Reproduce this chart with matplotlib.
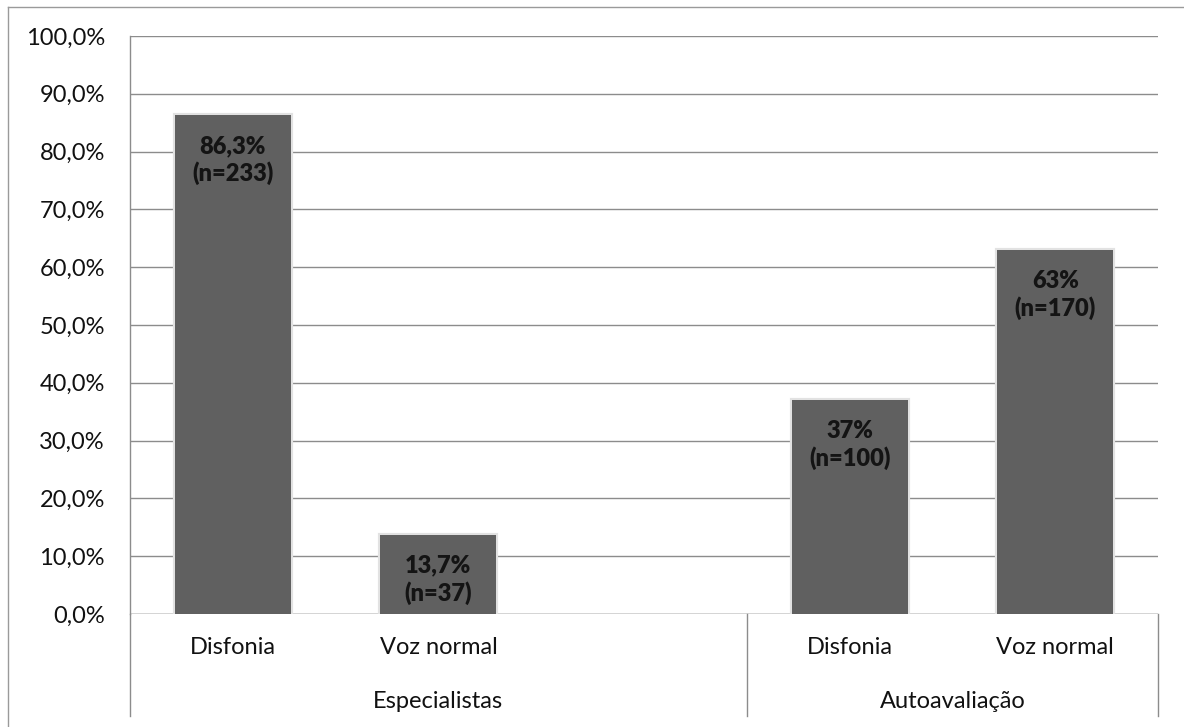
import matplotlib
matplotlib.use("Agg")
import matplotlib.pyplot as plt
import matplotlib.patheffects as pe
from matplotlib.lines import Line2D
from matplotlib.transforms import blended_transform_factory

# Data
categories = ["Disfonia", "Voz normal", "", "Disfonia", "Voz normal"]
groups = ["Especialistas", "Autoavaliação"]
group_spans = [(0, 2), (3, 4)]          # category slots covered by each group
bar_slots = [0, 1, 3, 4]
percentages = [86.3, 13.7, 37.0, 63.0]
counts = [233, 37, 100, 170]
yticks = [0, 10, 20, 30, 40, 50, 60, 70, 80, 90, 100]

plt.rcParams["font.family"] = ["Lato", "DejaVu Sans"]

W, H = 1184, 727
fig = plt.figure(figsize=(W / 100, H / 100), dpi=100)
ax = fig.add_axes([130 / W, (H - 614) / H, 1028 / W, 578 / H])

grid_col = "#8c8c8c"
bar_col = "#606060"
fs = 17

ax.set_xlim(-0.5, len(categories) - 0.5)
ax.set_ylim(0, 100)
ax.set_yticks(yticks)
ax.set_yticklabels([f"{v:.1f}%".replace(".", ",") for v in yticks], fontsize=fs, color="#111111")
ax.tick_params(axis="y", length=0, pad=18)
ax.set_xticks([])
for s in ["top", "right", "bottom"]:
    ax.spines[s].set_visible(False)
ax.spines["left"].set_color(grid_col)
ax.spines["left"].set_linewidth(1.0)
ax.yaxis.grid(True, color=grid_col, linewidth=1.0)
ax.set_axisbelow(True)

bars = ax.bar(bar_slots, percentages, width=0.565, color=bar_col, zorder=3)
for b in bars:
    b.set_path_effects([pe.withStroke(linewidth=3.0, foreground="#e2e2e2")])

# Value labels inside the top of each bar
for x, v, n in zip(bar_slots, percentages, counts):
    txt = f"{v:g}%".replace(".", ",") + f"\n(n={n})"
    ax.annotate(txt, xy=(x, v), xytext=(0, -45), textcoords="offset pixels",
                ha="center", va="center", fontsize=fs, fontweight="heavy",
                color="#141414", linespacing=1.25, zorder=4)

# Two-level category axis
tr = blended_transform_factory(ax.transData, ax.transAxes)
sep_bottom = (614 - 716) / 578
for i, c in enumerate(categories):
    if c:
        ax.text(i, (614 - 648) / 578, c, transform=tr, ha="center", va="center",
                fontsize=fs, color="#111111")
for g, (a, b) in zip(groups, group_spans):
    ax.text((a + b) / 2, (614 - 701) / 578, g, transform=tr, ha="center", va="center",
            fontsize=fs, color="#111111")
sep_x = [-0.5, group_spans[0][1] + 0.5, len(categories) - 0.5]
for x in sep_x:
    ax.add_line(Line2D([x, x], [0, sep_bottom], transform=tr, color=grid_col,
                       linewidth=1.0, clip_on=False))
ax.axhline(0, color=grid_col, linewidth=1.0, zorder=2)

# Outer frame (top and left edges)
fig.add_artist(Line2D([8 / W, 8 / W], [0, (H - 7) / H], color="#9a9a9a", linewidth=1.0))
fig.add_artist(Line2D([8 / W, 1], [(H - 7) / H, (H - 7) / H], color="#9a9a9a", linewidth=1.0))

fig.savefig("out.png", dpi=100, facecolor="white")
